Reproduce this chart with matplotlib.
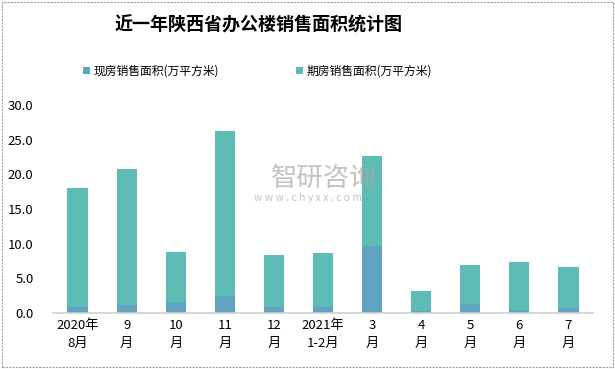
import numpy as np
import matplotlib
matplotlib.use("Agg")
import matplotlib.pyplot as plt
from matplotlib.patches import Rectangle

plt.rcParams['font.family'] = ['Noto Sans CJK SC', 'DejaVu Sans']

# data (万平方米)
months = ["2020年\n8月", "9\n月", "10\n月", "11\n月", "12\n月", "2021年\n1-2月",
          "3\n月", "4\n月", "5\n月", "6\n月", "7\n月"]
total_area = [18.1, 20.8, 8.8, 26.2, 8.4, 8.7, 22.7, 3.2, 6.9, 7.4, 6.6]
spot_area = [0.9, 1.2, 1.6, 2.5, 0.9, 0.9, 9.7, 0.3, 1.3, 0.4, 0.7]
forward_area = [t - s for t, s in zip(total_area, spot_area)]

fig = plt.figure(figsize=(6.15, 3.69), dpi=100)
ax = fig.add_axes([53 / 615, 56 / 369, 540 / 615, 208 / 369])

x = np.arange(len(months))
b1 = ax.bar(x, spot_area, width=0.41, color="#62A3C2", label="现房销售面积(万平方米)")
b2 = ax.bar(x, forward_area, width=0.41, bottom=spot_area, color="#5DBDB6",
            label="期房销售面积(万平方米)")

ax.set_xlim(-0.5, len(months) - 0.5)
ax.set_ylim(0, 30)
ax.set_yticks(np.arange(0, 31, 5))
ax.set_yticklabels([f"{v:.1f}" for v in np.arange(0, 31, 5)], fontsize=9.5)
ax.set_xticks(x)
ax.set_xticklabels(months, fontsize=9.5, linespacing=1.5)
ax.tick_params(axis="both", length=0, colors="#000000")
ax.tick_params(axis="y", pad=14)
ax.tick_params(axis="x", pad=4)
for s in ["top", "right", "left"]:
    ax.spines[s].set_visible(False)
ax.spines["bottom"].set_color("#D0D0D0")
ax.spines["bottom"].set_linewidth(1.2)

fig.text(0.42, 1 - 25 / 369, "近一年陕西省办公楼销售面积统计图", ha="center", va="center",
         fontsize=13, fontweight="bold")

fig.legend(handles=[b1, b2], loc="center", bbox_to_anchor=(0.419, 1 - 71 / 369), ncol=2,
           frameon=False, fontsize=8.5, handlelength=0.6, handleheight=0.6,
           columnspacing=6.5, handletextpad=0.3)

# watermark
fig.text(0.526, 1 - 178 / 369, "智研咨询", ha="center", va="center", fontsize=19,
         color="#A8A8A8", alpha=0.7)
fig.text(0.5, 1 - 198 / 369, "w w w . c h y x x . c o m", ha="center", va="center",
         fontsize=7.5, color="#A8A8A8", alpha=0.7)

fig.patches.append(Rectangle((2 / 615, 2 / 369), 611 / 615, 365 / 369, transform=fig.transFigure,
                             fill=False, edgecolor="#A0A0A0", linestyle=(0, (2, 1)), linewidth=0.8))

fig.savefig("out.png", dpi=100)
